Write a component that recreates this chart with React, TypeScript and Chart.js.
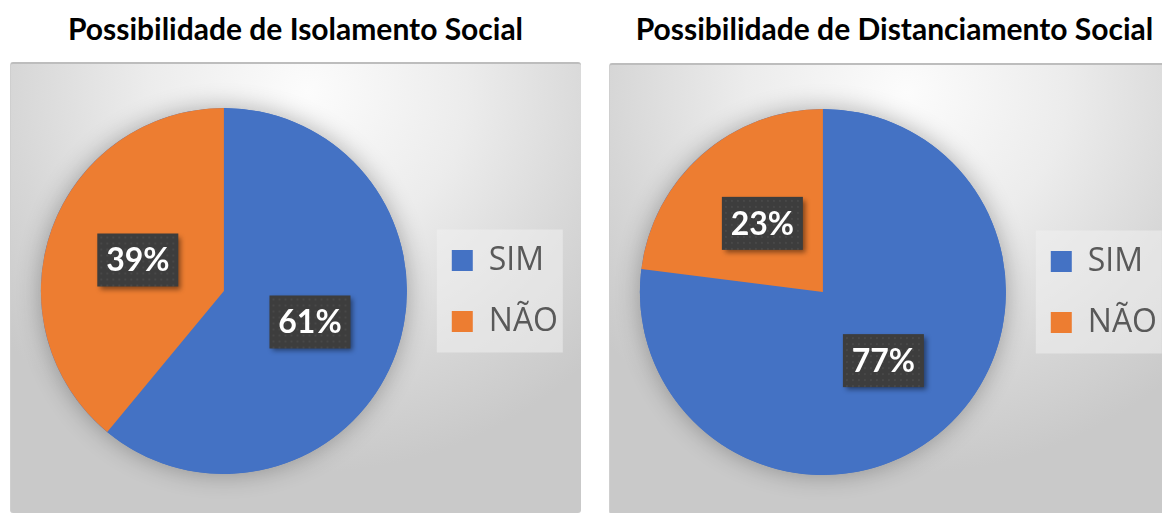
import React, { useEffect, useRef } from "react";
import { Chart, registerables } from "chart.js";

Chart.register(...registerables);

const categories = ["SIM", "NÃO"];
const isolamentoValues = [61, 39];
const distanciamentoValues = [77, 23];
const chartTitles = [
  "Possibilidade de Isolamento Social",
  "Possibilidade de Distanciamento Social",
];
const sliceColors = ["#4472C4", "#ED7D31"];

const PANEL_W = 571;
const PANEL_H = 451;

const pieShadow = {
  id: "pieShadow",
  beforeDatasetsDraw(chart: any) {
    const arc = chart.getDatasetMeta(0).data[0];
    if (!arc) return;
    const { x, y, outerRadius } = arc.getProps(["x", "y", "outerRadius"], true);
    const ctx = chart.ctx;
    ctx.save();
    ctx.shadowColor = "rgba(0,0,0,0.30)";
    ctx.shadowBlur = 24;
    ctx.fillStyle = sliceColors[0];
    ctx.beginPath();
    ctx.arc(x, y, outerRadius, 0, Math.PI * 2);
    ctx.fill();
    ctx.restore();
  },
};

const legendBack = {
  id: "legendBack",
  beforeDraw(chart: any) {
    const lg = chart.legend;
    if (!lg || !lg.legendHitBoxes || !lg.legendHitBoxes.length) return;
    const hb0 = lg.legendHitBoxes[0];
    const ctx = chart.ctx;
    ctx.save();
    ctx.fillStyle = "rgba(240,240,240,0.55)";
    ctx.fillRect(hb0.left - 15, hb0.top - 15, 126, 123);
    ctx.restore();
  },
};

const valueLabels = {
  id: "valueLabels",
  afterDatasetsDraw(chart: any) {
    const ctx = chart.ctx;
    const ds = chart.data.datasets[0];
    chart.getDatasetMeta(0).data.forEach((arc: any, i: number) => {
      const p = arc.tooltipPosition(true);
      const text = ds.data[i] + "%";
      const w = 81;
      const h = 53;
      ctx.save();
      ctx.shadowColor = "rgba(0,0,0,0.45)";
      ctx.shadowBlur = 5;
      ctx.shadowOffsetX = 3;
      ctx.shadowOffsetY = 3;
      ctx.fillStyle = "#3d3d3d";
      ctx.fillRect(p.x - w / 2, p.y - h / 2, w, h);
      ctx.shadowColor = "transparent";
      ctx.fillStyle = "rgba(255,255,255,0.06)";
      for (let yy = p.y - h / 2 + 3; yy < p.y + h / 2; yy += 6) {
        for (let xx = p.x - w / 2 + 3; xx < p.x + w / 2; xx += 6) {
          ctx.fillRect(xx, yy, 2, 2);
        }
      }
      ctx.fillStyle = "#ffffff";
      ctx.font = "bold 32px Lato";
      ctx.textAlign = "center";
      ctx.textBaseline = "middle";
      ctx.fillText(text, p.x, p.y + 1);
      ctx.restore();
    });
  },
};

function PiePanel({ values, title, left, top }: { values: number[]; title: string; left: number; top: number }) {
  const ref = useRef<HTMLCanvasElement | null>(null);
  useEffect(() => {
    if (!ref.current) return;
    const chart = new Chart(ref.current, {
      type: "pie",
      data: {
        labels: categories,
        datasets: [
          {
            data: values,
            backgroundColor: sliceColors,
            borderWidth: 0,
            hoverOffset: 0,
          },
        ],
      },
      options: {
        responsive: false,
        animation: false,
        events: [],
        layout: { padding: { left: 15, right: 13, top: 46, bottom: 39 } },
        plugins: {
          tooltip: { enabled: false },
          title: { display: false },
          legend: {
            display: true,
            position: "right",
            labels: {
              boxWidth: 21,
              boxHeight: 21,
              padding: 29,
              color: "#595959",
              font: { family: "'Open Sans', sans-serif", size: 32 },
            },
          },
        },
      },
      plugins: [legendBack, pieShadow, valueLabels],
    });
    return () => chart.destroy();
  }, [values]);

  return (
    <>
      <div
        style={{
          position: "absolute",
          left,
          top: 8,
          width: PANEL_W,
          textAlign: "center",
          fontFamily: "Lato, sans-serif",
          fontWeight: 700,
          fontSize: 30,
          lineHeight: "40px",
          color: "#000",
          whiteSpace: "nowrap",
        }}
      >
        {title}
      </div>
      <div
        style={{
          position: "absolute",
          left,
          top,
          width: PANEL_W,
          height: PANEL_H,
          borderTop: "2px solid #bdbdbd",
          borderLeft: "1px solid #cfcfcf",
          borderRadius: 3,
          boxSizing: "border-box",
          background:
            "radial-gradient(ellipse 70% 85% at 52% 6%, #fcfcfc 0%, #ececec 40%, #d6d6d6 75%, #c9c9c9 100%)",
          overflow: "hidden",
        }}
      >
        <canvas
          ref={ref}
          width={PANEL_W}
          height={PANEL_H}
          style={{ position: "absolute", left: -1, top: -2, width: PANEL_W, height: PANEL_H }}
        />
      </div>
    </>
  );
}

export default function App() {
  return (
    <div
      style={{
        position: "fixed",
        left: 0,
        top: 0,
        width: 1162,
        height: 513,
        overflow: "hidden",
        background: "#ffffff",
      }}
    >
      <PiePanel values={isolamentoValues} title={chartTitles[0]} left={10} top={62} />
      <PiePanel values={distanciamentoValues} title={chartTitles[1]} left={609} top={63} />
    </div>
  );
}
